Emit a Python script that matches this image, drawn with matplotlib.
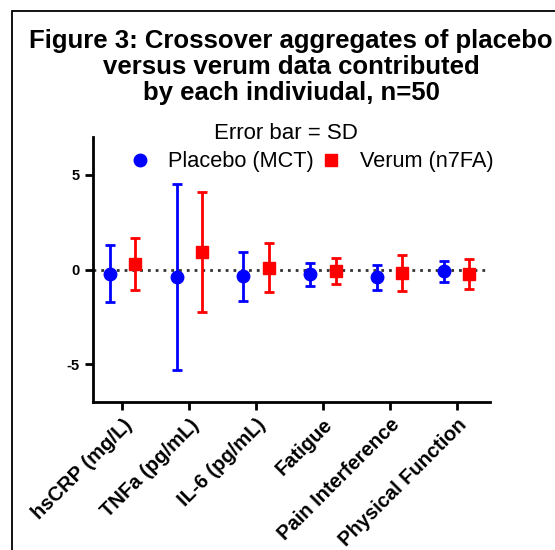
import numpy as np
import matplotlib.pyplot as plt
from matplotlib.lines import Line2D
from matplotlib.patches import Rectangle
from matplotlib.ticker import FuncFormatter

plt.rcParams['font.family'] = ['Liberation Sans', 'DejaVu Sans']

# ----------------------------------------------------------------------------------
# Data
# ----------------------------------------------------------------------------------
categories = ['hsCRP (mg/L)', 'TNFa (pg/mL)', 'IL-6 (pg/mL)', 'Fatigue',
              'Pain Interference', 'Physical Function']
placebo_mean = [-0.22, -0.40, -0.35, -0.26, -0.40, -0.10]
placebo_sd = [1.50, 4.90, 1.30, 0.62, 0.66, 0.55]
verum_mean = [0.30, 0.93, 0.10, -0.09, -0.19, -0.23]
verum_sd = [1.36, 3.17, 1.30, 0.70, 0.95, 0.80]

title_lines = ['Figure 3: Crossover aggregates of placebo',
               'versus verum data contributed',
               'by each indiviudal, n=50']

x = np.arange(len(categories))
offset = 0.19
W, H = 555, 550

# ----------------------------------------------------------------------------------
# Plot
# ----------------------------------------------------------------------------------
fig = plt.figure(figsize=(5.55, 5.5), dpi=100)
ax = fig.add_axes([93 / W, 1 - 402 / H, (490 - 93) / W, (402 - 137) / H])

ax.axhline(0, color='#333333', linestyle=(0, (1, 1.8)), linewidth=2,
           zorder=1)

ax.errorbar(x - offset, placebo_mean, yerr=placebo_sd, fmt='o', color='#0000ff',
            markersize=9, elinewidth=2, capsize=3.5, capthick=2, zorder=3)
ax.errorbar(x + offset, verum_mean, yerr=verum_sd, fmt='s', color='#ff0000',
            markersize=9, elinewidth=2, capsize=3.5, capthick=2, zorder=3)

ax.set_xlim(-0.44, 5.5)
ax.set_ylim(-7, 7)
ax.set_yticks([-5, 0, 5])
ax.yaxis.set_major_formatter(FuncFormatter(lambda v, p: '%d' % v))
ax.set_xticks(x)
ax.set_xticklabels(categories, rotation=45, ha='right', rotation_mode='anchor',
                   fontsize=14.5, fontweight='bold')
for lab in ax.get_yticklabels():
    lab.set_fontweight('bold')
    lab.set_fontsize(10.5)

ax.spines['top'].set_visible(False)
ax.spines['right'].set_visible(False)
ax.spines['left'].set_linewidth(2)
ax.spines['bottom'].set_linewidth(2)
ax.tick_params(axis='both', width=2, length=6, direction='out')

# legend: markers only
handles = [Line2D([], [], marker='o', linestyle='none', color='#0000ff',
                  markersize=9),
           Line2D([], [], marker='s', linestyle='none', color='#ff0000',
                  markersize=9)]
fig.legend(handles, ['Placebo (MCT)', 'Verum (n7FA)'], loc='center',
           bbox_to_anchor=(311 / W, 1 - 162 / H), ncol=2, frameon=False,
           fontsize=15.7, handletextpad=0.8, columnspacing=0.3,
           handlelength=1.0, borderpad=0, borderaxespad=0)

fig.text(286 / W, 1 - 139 / H, 'Error bar = SD', ha='center', va='baseline',
         fontsize=16)

for txt, base in zip(title_lines, [48, 74, 100]):
    fig.text(291 / W, 1 - base / H, txt, ha='center', va='baseline',
             fontsize=18.5, fontweight='bold')

# frame around the figure panel
fig.patches.append(Rectangle((12 / W, -0.1), 1.2, 1 - 11 / H + 0.1,
                             transform=fig.transFigure, fill=False,
                             edgecolor='black', linewidth=1.3))

fig.savefig('out.png', dpi=100)
